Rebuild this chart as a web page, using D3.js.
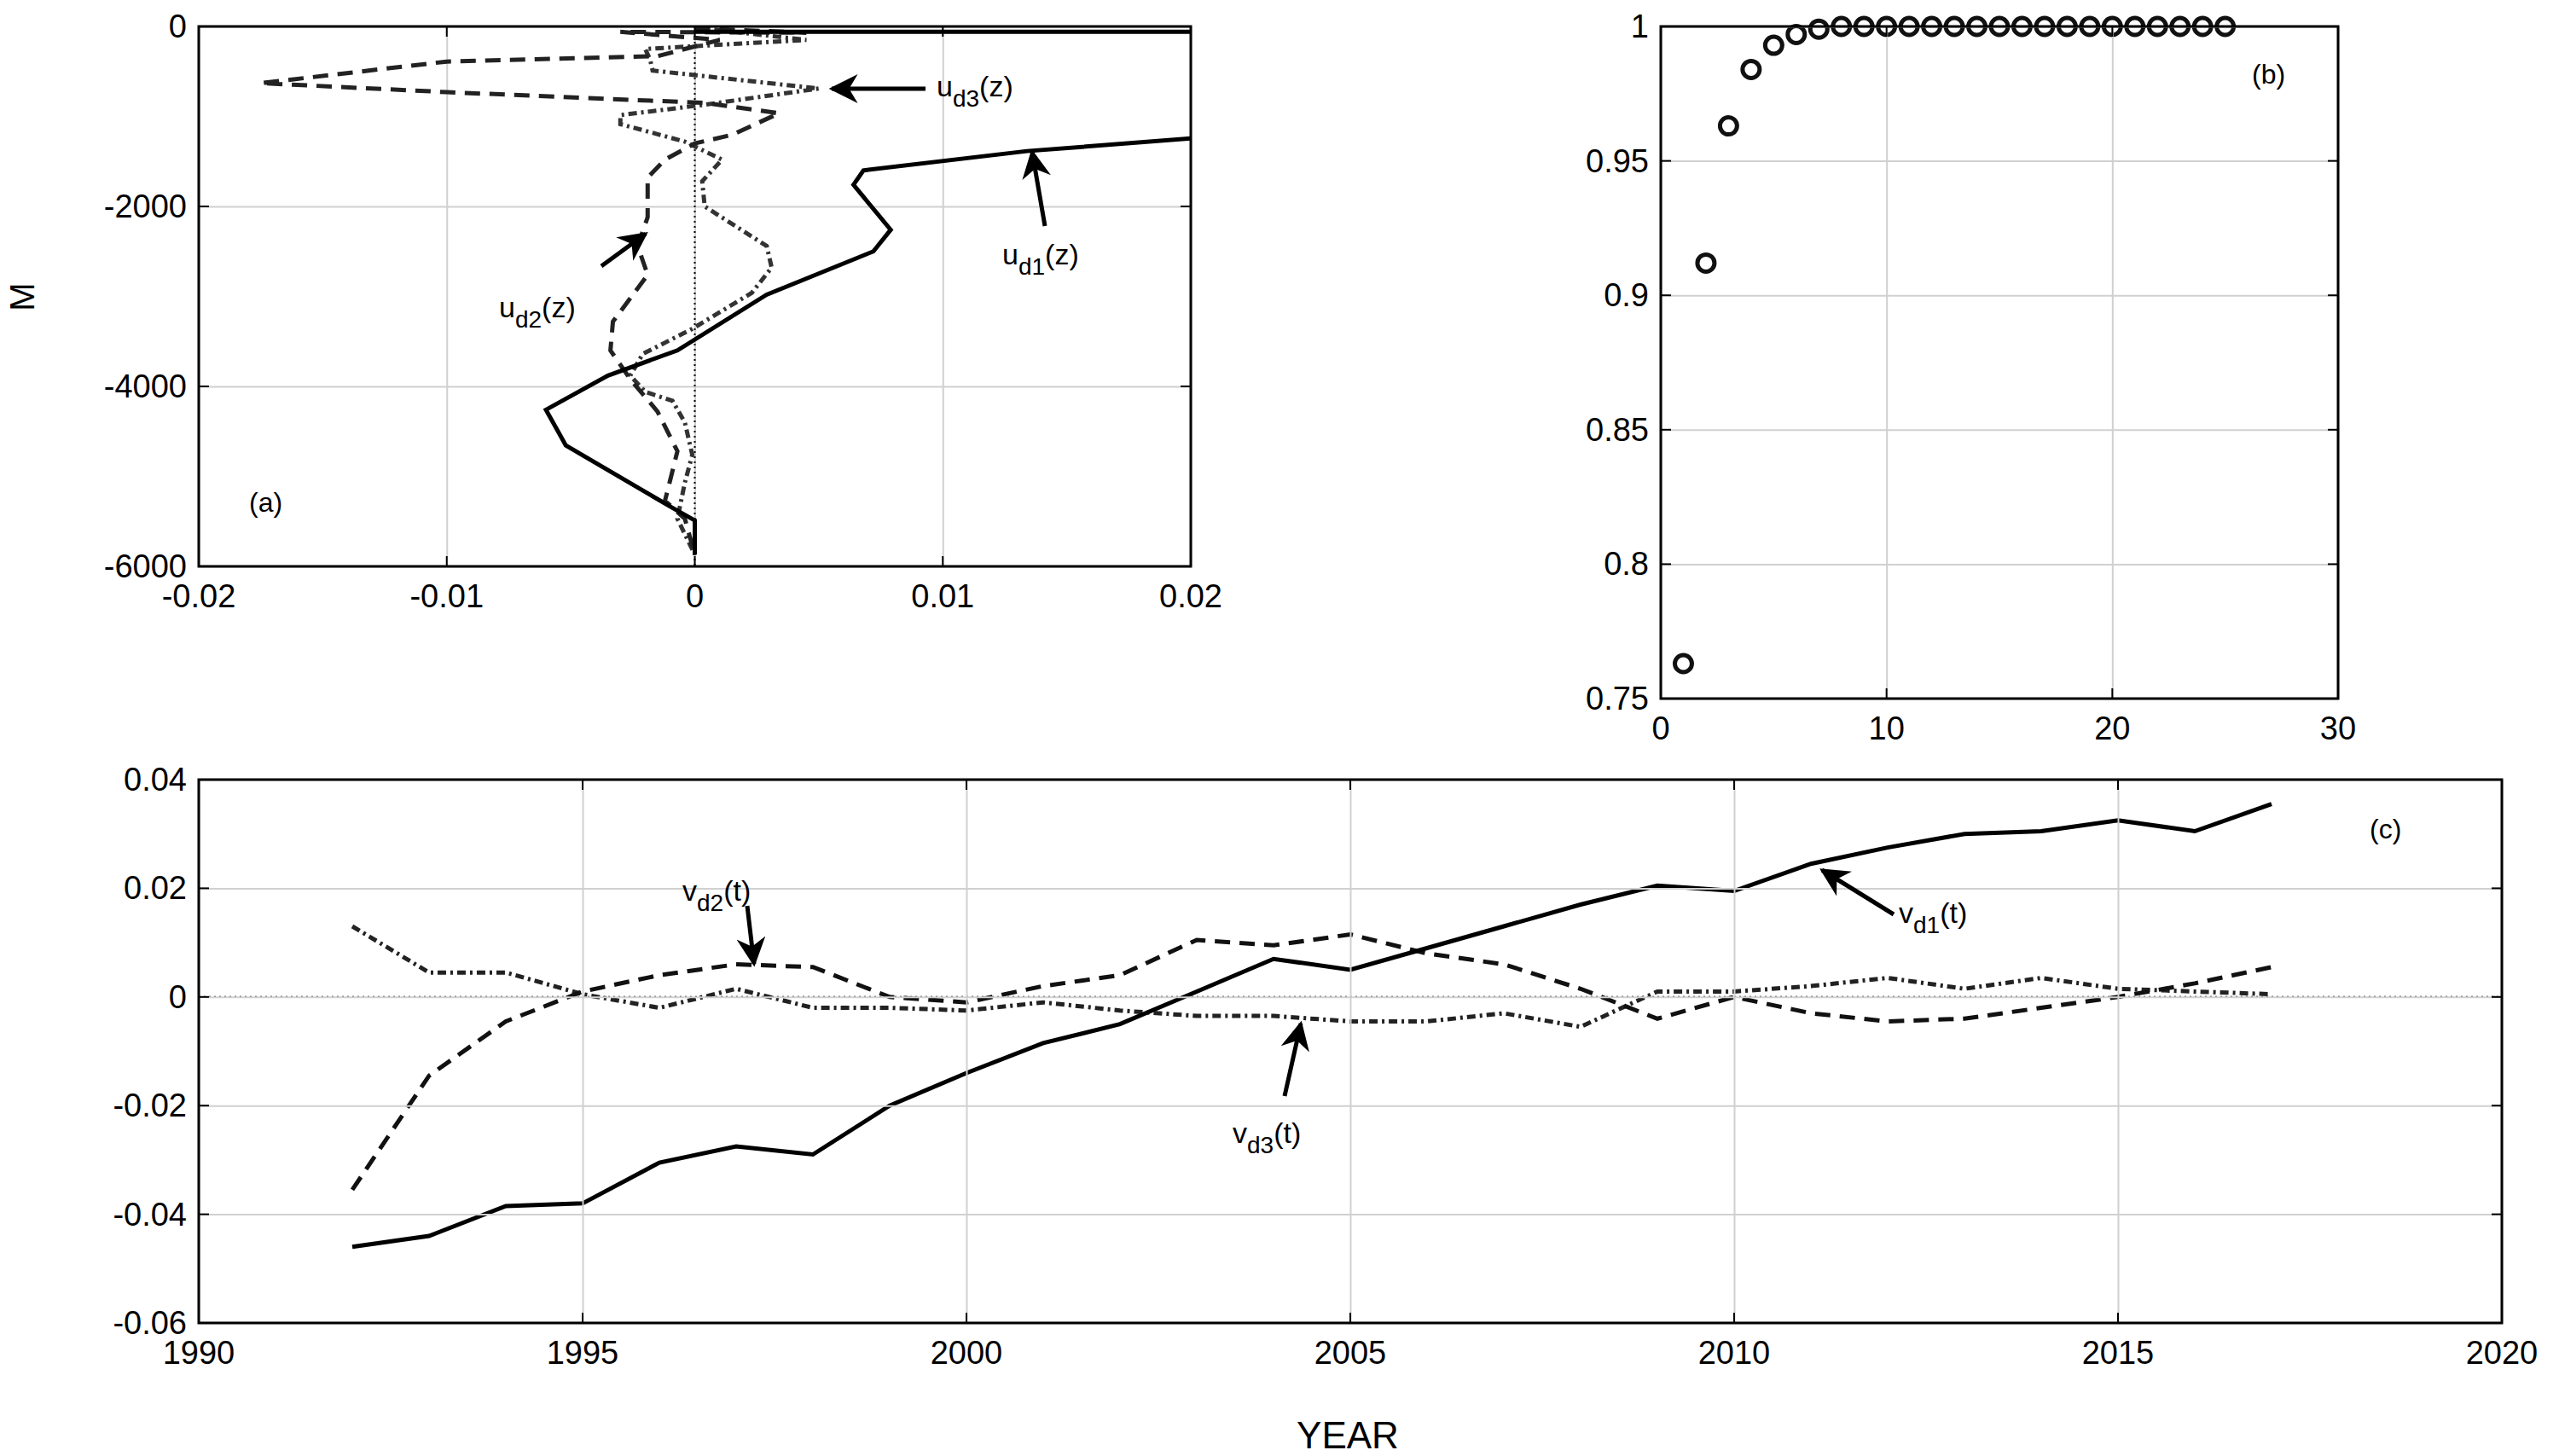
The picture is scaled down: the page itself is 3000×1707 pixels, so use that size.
<!DOCTYPE html>
<html><head><meta charset="utf-8">
<script src="https://cdn.jsdelivr.net/npm/d3@7"></script>
<style>body{margin:0;background:#fff}svg{font-family:"Liberation Sans",Arial,sans-serif}</style>
</head><body><svg id="c" width="3000" height="1707"></svg>
<script>
// Panel (a): [u, depth]
const ud1 = [[0,-60],[0.25,-60],[0.25,-120],[0.1,-700],[0.03,-1150],[0.02,-1245],[0.0134,-1385],[0.0068,-1600],[0.0064,-1760],[0.0079,-2260],[0.0072,-2500],[0.0029,-2980],[-0.0007,-3600],[-0.0035,-3880],[-0.006,-4260],[-0.0052,-4655],[-0.0009,-5350],[0,-5490],[0,-5870]];
const ud2 = [[0,-20],[0.0045,-70],[-0.003,-60],[0.001,-150],[-0.0015,-330],[-0.01,-390],[-0.0175,-630],[-0.01,-730],[0.0004,-850],[0.0034,-965],[0.0015,-1205],[0,-1300],[-0.0012,-1480],[-0.0019,-1680],[-0.0019,-2120],[-0.0023,-2440],[-0.0019,-2760],[-0.0033,-3280],[-0.0034,-3600],[-0.0026,-3920],[-0.0015,-4280],[-0.0007,-4720],[-0.0012,-5270],[-0.0004,-5470],[0,-5870]];
const ud3 = [[0,-10],[0.0045,-150],[-0.002,-250],[-0.0018,-370],[-0.0017,-490],[0.005,-690],[0.0004,-870],[-0.003,-985],[-0.003,-1085],[-0.0004,-1280],[0.0011,-1480],[0.0003,-1720],[0.0004,-2000],[0.0029,-2440],[0.0031,-2680],[0.0023,-2960],[-0.0001,-3360],[-0.0021,-3640],[-0.0026,-3880],[-0.002,-4060],[-0.0009,-4160],[-0.0004,-4400],[-0.0001,-4760],[-0.0004,-5070],[-0.0007,-5470],[0,-5870]];
const aXTicks = [-0.02,-0.01,0,0.01,0.02];
const aYTicks = [0,-2000,-4000,-6000];
// Panel (b)
const bX = d3.range(1,26);
const bY = [0.763,0.912,0.963,0.984,0.993,0.997,0.999,1,1,1,1,1,1,1,1,1,1,1,1,1,1,1,1,1,1];
const bXTicks = [0,10,20,30];
const bYTicks = [0.75,0.8,0.85,0.9,0.95,1];
// Panel (c)
const years = d3.range(1992,2018);
const vd1 = [-0.046,-0.044,-0.0385,-0.038,-0.0305,-0.0275,-0.029,-0.020,-0.014,-0.0085,-0.005,0.001,0.007,0.005,0.009,0.013,0.017,0.0205,0.0195,0.0245,0.0275,0.030,0.0305,0.0325,0.0305,0.0355];
const vd2 = [-0.0355,-0.0145,-0.0045,0.001,0.004,0.006,0.0055,0,-0.001,0.002,0.004,0.0105,0.0095,0.0115,0.008,0.006,0.0015,-0.004,0,-0.003,-0.0045,-0.004,-0.002,0,0.0025,0.0055];
const vd3 = [0.013,0.0045,0.0045,0.0005,-0.002,0.0015,-0.002,-0.002,-0.0025,-0.001,-0.0025,-0.0035,-0.0035,-0.0045,-0.0045,-0.003,-0.0055,0.001,0.001,0.002,0.0035,0.0015,0.0035,0.0015,0.001,0.0005];
const cXTicks = [1990,1995,2000,2005,2010,2015,2020];
const cYTicks = [0.04,0.02,0,-0.02,-0.04,-0.06];

const svg = d3.select("#c");
const defs = svg.append("defs");
defs.append("marker").attr("id","ah").attr("viewBox","0 0 10 10").attr("refX",9).attr("refY",5)
  .attr("markerWidth",44).attr("markerHeight",34).attr("markerUnits","userSpaceOnUse").attr("orient","auto")
  .append("path").attr("d","M0,0L10,5L0,10L3,5Z").attr("fill","#000");

function panel(id,L,R,T,B,xd,yd,xt,yt,fmtX,fmtY){
  const x=d3.scaleLinear().domain(xd).range([L,R]);
  const y=d3.scaleLinear().domain(yd).range([B,T]);
  const g=svg.append("g");
  defs.append("clipPath").attr("id",id).append("rect").attr("x",L).attr("y",T).attr("width",R-L).attr("height",B-T);
  g.append("g").attr("transform",`translate(0,${B})`).call(d3.axisBottom(x).tickValues(xt).tickSize(-(B-T)).tickFormat(""))
   .call(s=>{s.select(".domain").remove();s.selectAll("line").attr("stroke","#d0d0d0").attr("stroke-width",2);});
  g.append("g").attr("transform",`translate(${L},0)`).call(d3.axisLeft(y).tickValues(yt).tickSize(-(R-L)).tickFormat(""))
   .call(s=>{s.select(".domain").remove();s.selectAll("line").attr("stroke","#d0d0d0").attr("stroke-width",2);});
  const ax=svg.append("g").attr("class","ax");
  xt.forEach(v=>{ax.append("line").attr("x1",x(v)).attr("x2",x(v)).attr("y1",B).attr("y2",B-12).attr("stroke","#000").attr("stroke-width",2);
    ax.append("line").attr("x1",x(v)).attr("x2",x(v)).attr("y1",T).attr("y2",T+12).attr("stroke","#000").attr("stroke-width",2);
    ax.append("text").attr("x",x(v)).attr("y",B+48).attr("text-anchor","middle").attr("font-size",38).text(fmtX(v));});
  yt.forEach(v=>{ax.append("line").attr("y1",y(v)).attr("y2",y(v)).attr("x1",L).attr("x2",L+12).attr("stroke","#000").attr("stroke-width",2);
    ax.append("line").attr("y1",y(v)).attr("y2",y(v)).attr("x1",R).attr("x2",R-12).attr("stroke","#000").attr("stroke-width",2);
    ax.append("text").attr("x",L-14).attr("y",y(v)+13).attr("text-anchor","end").attr("font-size",38).text(fmtY(v));});
  ax.append("rect").attr("x",L).attr("y",T).attr("width",R-L).attr("height",B-T).attr("fill","none").attr("stroke","#000").attr("stroke-width",3);
  const plot=svg.insert("g",".ax").attr("clip-path",`url(#${id})`);
  return {x,y,plot};
}
const fmtG = v=> v===0?"0":String(+v.toFixed(4));

// Panel a
const A=panel("ca",233,1396,31,664,[-0.02,0.02],[-6000,0],aXTicks,aYTicks,fmtG,v=>String(v));
A.plot.append("line").attr("x1",A.x(0)).attr("x2",A.x(0)).attr("y1",31).attr("y2",664).attr("stroke","#000").attr("stroke-width",2).attr("stroke-dasharray","2,4");
const la=d3.line().x(d=>A.x(d[0])).y(d=>A.y(d[1]));
A.plot.append("path").attr("d",la(ud3)).attr("fill","none").attr("stroke","#333").attr("stroke-width",5).attr("stroke-dasharray","10,5,3,5");
A.plot.append("path").attr("d",la(ud2)).attr("fill","none").attr("stroke","#222").attr("stroke-width",5).attr("stroke-dasharray","18,11");
A.plot.append("path").attr("d",la(ud1)).attr("fill","none").attr("stroke","#000").attr("stroke-width",5);
svg.append("text").attr("x",40).attr("y",348).attr("font-size",40).attr("text-anchor","middle").attr("transform","rotate(-90,40,348)").text("M");
svg.append("text").attr("x",292).attr("y",600).attr("font-size",32).text("(a)");

function arrow(x1,y1,x2,y2){svg.append("line").attr("x1",x1).attr("y1",y1).attr("x2",x2).attr("y2",y2).attr("stroke","#000").attr("stroke-width",5).attr("marker-end","url(#ah)");}
function sublabel(x,y,sub,arg){const t=svg.append("text").attr("x",x).attr("y",y).attr("font-size",34);
  t.append("tspan").text(arg[0]);t.append("tspan").attr("dy",12).attr("font-size",28).text(sub);t.append("tspan").attr("dy",-12).text(arg[1]);}
arrow(1085,104,975,104); sublabel(1098,113,"d3",["u","(z)"]);
arrow(1225,265,1210,178); sublabel(1175,310,"d1",["u","(z)"]);
arrow(705,312,757,274); sublabel(585,372,"d2",["u","(z)"]);

// Panel b
const Bp=panel("cb",1947,2741,31,819,[0,30],[0.75,1],bXTicks,bYTicks,v=>String(v),v=>v===1?"1":String(+v.toFixed(2)));
defs.select("#cb rect").attr("y",10).attr("height",830);
Bp.plot.selectAll("circle").data(bX).join("circle").attr("cx",d=>Bp.x(d)).attr("cy",(d,i)=>Bp.y(bY[i])).attr("r",10)
  .attr("fill","none").attr("stroke","#111").attr("stroke-width",5);
svg.append("text").attr("x",2640).attr("y",98).attr("font-size",32).text("(b)");

// Panel c
const C=panel("cc",233,2933,914,1551,[1990,2020],[-0.06,0.04],cXTicks,cYTicks,v=>String(v),fmtG);
C.plot.append("line").attr("x1",233).attr("x2",2933).attr("y1",C.y(0)).attr("y2",C.y(0)).attr("stroke","#000").attr("stroke-width",2).attr("stroke-dasharray","2,4");
const lc=arr=>d3.line().x((d,i)=>C.x(years[i])).y(d=>C.y(d))(arr);
C.plot.append("path").attr("d",lc(vd3)).attr("fill","none").attr("stroke","#222").attr("stroke-width",5).attr("stroke-dasharray","10,5,3,5");
C.plot.append("path").attr("d",lc(vd2)).attr("fill","none").attr("stroke","#111").attr("stroke-width",5).attr("stroke-dasharray","18,11");
C.plot.append("path").attr("d",lc(vd1)).attr("fill","none").attr("stroke","#000").attr("stroke-width",5);
svg.append("text").attr("x",1580).attr("y",1698).attr("font-size",44).attr("text-anchor","middle").text("YEAR");
svg.append("text").attr("x",2778).attr("y",983).attr("font-size",32).text("(c)");
arrow(876,1062,884,1130); sublabel(800,1056,"d2",["v","(t)"]);
arrow(2220,1072,2136,1020); sublabel(2226,1082,"d1",["v","(t)"]);
arrow(1506,1285,1525,1200); sublabel(1445,1340,"d3",["v","(t)"]);
</script></body></html>
